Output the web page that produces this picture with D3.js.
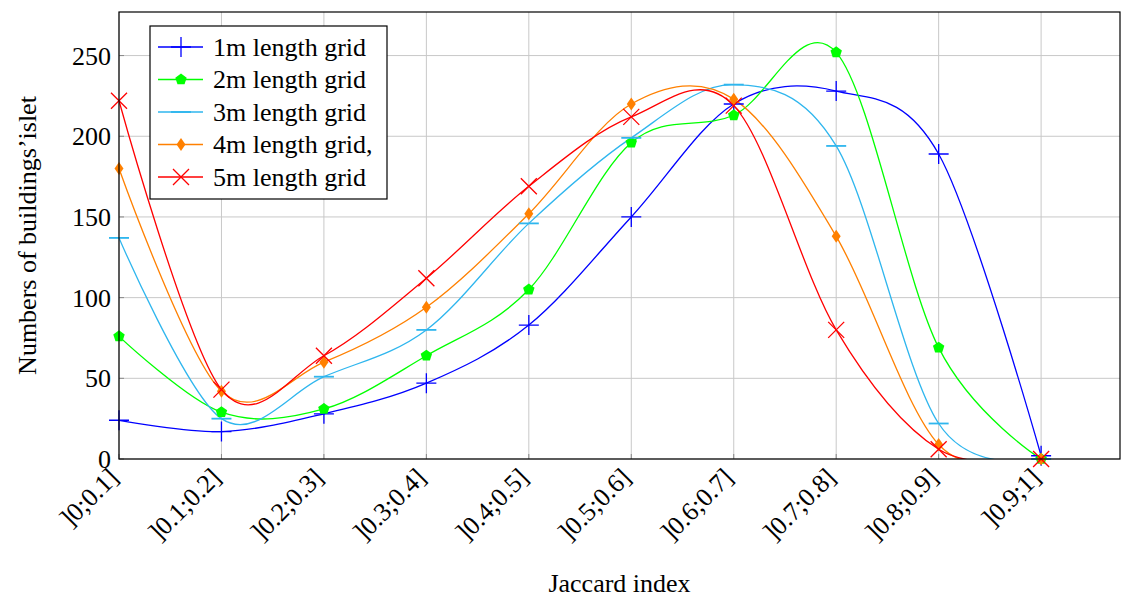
<!DOCTYPE html>
<html>
<head>
<meta charset="utf-8">
<script src="https://cdn.jsdelivr.net/npm/d3@7"></script>
<style>
  html, body { margin: 0; padding: 0; background: #fff; }
  svg text { font-family: "Liberation Serif", "DejaVu Serif", serif; fill: #000; }
</style>
</head>
<body>
<svg id="chart"></svg>
<script>
const categories = ["]0;0.1]", "]0.1;0.2]", "]0.2;0.3]", "]0.3;0.4]", "]0.4;0.5]",
  "]0.5;0.6]", "]0.6;0.7]", "]0.7;0.8]", "]0.8;0.9]", "]0.9;1]"];

const grid1m = [24, 17, 28, 47, 83, 150, 220, 228, 189, 2];
const grid2m = [76, 29, 31, 64, 105, 196, 213, 252, 69, 0];
const grid3m = [137, 25, 51, 80, 146, 199, 232, 194, 22, 0];
const grid4m = [180, 42, 60, 94, 152, 220, 223, 138, 9, 0];
const grid5m = [222, 43, 64, 112, 169, 212, 219, 80, 6, 0];

const seriesNames = ["1m length grid", "2m length grid", "3m length grid", "4m length grid,", "5m length grid"];
const yTicks = [0, 50, 100, 150, 200, 250];

const series = [
  { name: seriesNames[0], values: grid1m, color: "#0000ff", marker: "plus" },
  { name: seriesNames[1], values: grid2m, color: "#00ff00", marker: "pentagon" },
  { name: seriesNames[2], values: grid3m, color: "#2fb6ee", marker: "dash" },
  { name: seriesNames[3], values: grid4m, color: "#ff8000", marker: "diamond" },
  { name: seriesNames[4], values: grid5m, color: "#ff0000", marker: "cross" }
];

const W = 1126, H = 597;
const plot = { left: 119, right: 1120, top: 12, bottom: 459 };

const svg = d3.select("#chart").attr("width", W).attr("height", H);

const x = d3.scaleLinear().domain([0, 9.77]).range([plot.left, plot.right]);
const y = d3.scaleLinear().domain([0, 277]).range([plot.bottom, plot.top]);

// grid
const grid = svg.append("g").attr("stroke", "#c8c8c8").attr("stroke-width", 1);
grid.selectAll(".vg").data(categories).enter().append("line")
  .attr("x1", (_, i) => x(i)).attr("x2", (_, i) => x(i))
  .attr("y1", plot.top).attr("y2", plot.bottom);
grid.selectAll(".hg").data(yTicks).enter().append("line")
  .attr("x1", plot.left).attr("x2", plot.right)
  .attr("y1", d => y(d)).attr("y2", d => y(d));

// tick marks
const ticks = svg.append("g").attr("stroke", "#888").attr("stroke-width", 1);
ticks.selectAll(".xt").data(categories).enter().append("line")
  .attr("x1", (_, i) => x(i)).attr("x2", (_, i) => x(i))
  .attr("y1", plot.bottom).attr("y2", plot.bottom - 5);
ticks.selectAll(".yt").data(yTicks).enter().append("line")
  .attr("x1", plot.left).attr("x2", plot.left + 5)
  .attr("y1", d => y(d)).attr("y2", d => y(d));

// curves
svg.append("clipPath").attr("id", "clip").append("rect")
  .attr("x", plot.left).attr("y", plot.top)
  .attr("width", plot.right - plot.left).attr("height", plot.bottom - plot.top);

const line = d3.line()
  .x((_, i) => x(i))
  .y(d => y(d))
  .curve(d3.curveCardinal.tension(0));

const curves = svg.append("g").attr("clip-path", "url(#clip)");
series.forEach(s => {
  curves.append("path")
    .attr("d", line(s.values))
    .attr("fill", "none")
    .attr("stroke", s.color)
    .attr("stroke-width", 1.3);
});

function drawMarker(g, type, cx, cy, color) {
  if (type === "plus") {
    g.append("path").attr("d", `M${cx - 10},${cy}H${cx + 10}M${cx},${cy - 10}V${cy + 10}`)
      .attr("stroke", color).attr("stroke-width", 1.3).attr("fill", "none");
  } else if (type === "cross") {
    const r = 8;
    g.append("path").attr("d", `M${cx - r},${cy - r}L${cx + r},${cy + r}M${cx - r},${cy + r}L${cx + r},${cy - r}`)
      .attr("stroke", color).attr("stroke-width", 1.3).attr("fill", "none");
  } else if (type === "dash") {
    g.append("path").attr("d", `M${cx - 10},${cy}H${cx + 10}`)
      .attr("stroke", color).attr("stroke-width", 1.8).attr("fill", "none");
  } else if (type === "pentagon") {
    const r = 6;
    const pts = d3.range(5).map(k => {
      const a = -Math.PI / 2 + k * 2 * Math.PI / 5;
      return [cx + r * Math.cos(a), cy + r * Math.sin(a)];
    });
    g.append("polygon").attr("points", pts.map(p => p.join(",")).join(" ")).attr("fill", color);
  } else if (type === "diamond") {
    g.append("polygon")
      .attr("points", `${cx},${cy - 6.5} ${cx + 4.5},${cy} ${cx},${cy + 6.5} ${cx - 4.5},${cy}`)
      .attr("fill", color);
  }
}

const marks = svg.append("g");
series.forEach(s => {
  s.values.forEach((v, i) => drawMarker(marks, s.marker, x(i), y(v), s.color));
});

// axis frame
svg.append("rect")
  .attr("x", plot.left).attr("y", plot.top)
  .attr("width", plot.right - plot.left).attr("height", plot.bottom - plot.top)
  .attr("fill", "none").attr("stroke", "#000").attr("stroke-width", 1.2);

// y tick labels
svg.append("g").selectAll("text").data(yTicks).enter().append("text")
  .attr("x", plot.left - 8).attr("y", d => y(d))
  .attr("dy", "0.35em")
  .attr("text-anchor", "end")
  .attr("font-size", 26)
  .text(d => d);

// x tick labels
svg.append("g").selectAll("text").data(categories).enter().append("text")
  .attr("transform", (_, i) => `translate(${x(i) + 1},${plot.bottom + 20}) rotate(-45)`)
  .attr("text-anchor", "end")
  .attr("font-size", 26)
  .text(d => d);

// axis titles
svg.append("text")
  .attr("x", (plot.left + plot.right) / 2).attr("y", 592)
  .attr("text-anchor", "middle").attr("font-size", 26)
  .text("Jaccard index");

svg.append("text")
  .attr("transform", `translate(36,${(plot.top + plot.bottom) / 2}) rotate(-90)`)
  .attr("text-anchor", "middle").attr("font-size", 26)
  .text("Numbers of buildings\u2019islet");

// legend
const legend = svg.append("g").attr("transform", "translate(150,26)");
legend.append("rect")
  .attr("width", 237).attr("height", 173)
  .attr("fill", "#fff").attr("stroke", "#000").attr("stroke-width", 1.2);
series.forEach((s, i) => {
  const cy = 21 + i * 32.5;
  legend.append("line")
    .attr("x1", 8).attr("x2", 53).attr("y1", cy).attr("y2", cy)
    .attr("stroke", s.color).attr("stroke-width", 1.3);
  drawMarker(legend, s.marker, 31, cy, s.color);
  legend.append("text")
    .attr("x", 63).attr("y", cy).attr("dy", "0.33em")
    .attr("font-size", 26)
    .text(s.name);
});
</script>
</body>
</html>
